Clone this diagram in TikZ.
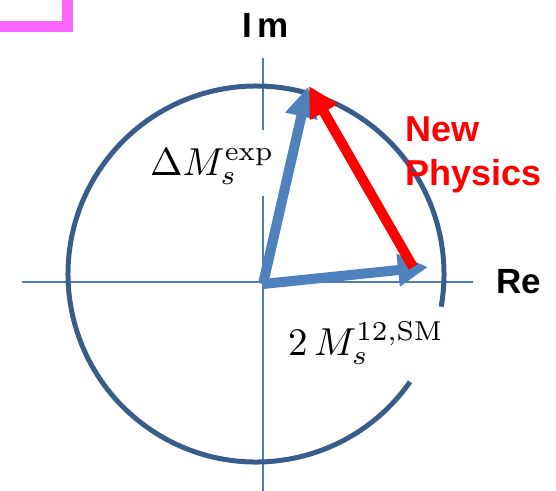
\documentclass[tikz,border=0pt]{standalone}
\usepackage{fontspec}
\usetikzlibrary{arrows.meta}
\newfontfamily\labfont{Liberation Sans}
\definecolor{circblue}{RGB}{56,93,138}
\definecolor{axisblue}{RGB}{74,126,187}
\definecolor{arrblue}{RGB}{79,129,189}
\definecolor{pinkbox}{RGB}{255,102,255}
\tikzset{
  axisline/.style={draw=axisblue, line width=2pt},
  circline/.style={draw=circblue, line width=5pt},
  bluearr/.style={draw=arrblue, line width=10pt, -{Triangle[length=30pt,width=31pt]}},
  redarr/.style={draw=red, line width=10pt, -{Triangle[length=30pt,width=30pt]}},
  mathlab/.style={anchor=base west, inner sep=0pt},
  axlab/.style={anchor=base west, inner sep=0pt, font=\labfont\bfseries\fontsize{35}{40}\selectfont},
  nplab/.style={anchor=north west, inner sep=0pt, align=left, text=red, font=\labfont\bfseries\fontsize{36}{44}\selectfont}
}
\begin{document}
\begin{tikzpicture}[x=1pt,y=-1pt]
\useasboundingbox (0,0) rectangle (556,490);
% pink box corner
\draw[pinkbox, line width=11.5pt, line join=miter] (-10,26.5) -- (67.5,26.5) -- (67.5,-10);
% axes
\coordinate (O) at (263,282);
\coordinate (xl) at (22,282);
\coordinate (xr) at (473,282);
\coordinate (yt) at (263,58);
\coordinate (yg1) at (263,130);
\coordinate (yg2) at (263,196);
\coordinate (yb) at (263,495);
\draw[axisline] (xl) -- (xr);
\draw[axisline] (yt) -- (yg1);
\draw[axisline] (yg2) -- (yb);
% circle with gap
\coordinate (C) at (256,274);
\draw[circline] (C) ++(35:188) arc[start angle=35, end angle=370, radius=188];
% vectors
\coordinate (O2) at (263,284);
\coordinate (A) at (308,87);
\coordinate (B) at (428,267);
\coordinate (Rt) at (413,267);
\coordinate (Rh) at (309,86);
\draw[bluearr] (O2) -- (A);
\draw[bluearr] (O2) -- (B);
\draw[redarr] (Rt) -- (Rh);
% labels
\node[mathlab] (dm) at (150,175) {\scalebox{3.9}{$\Delta M_s^{\mathrm{exp}}$}};
\node[mathlab] (sm) at (288,355) {\scalebox{3.9}{$2\,M_s^{12,\mathrm{SM}}$}};
\node[axlab] (im) at (242,37) {I\kern6pt m};
\node[axlab] (re) at (496,293) {Re};
\node[nplab] (np) at (405,117) {New\\Physics};
\end{tikzpicture}
\end{document}
